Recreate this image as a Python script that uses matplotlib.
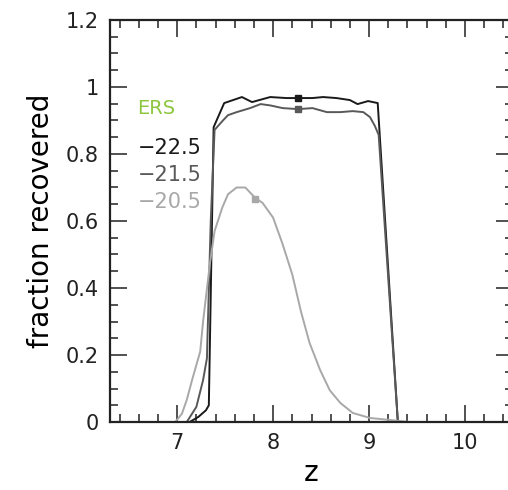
import numpy as np
import matplotlib
matplotlib.use("Agg")
import matplotlib.pyplot as plt
from matplotlib.ticker import MultipleLocator

# magnitude bins, ERS field
labels = ["\u221222.5", "\u221221.5", "\u221220.5"]
colors = ["#1a1a1a", "#595959", "#a8a8a8"]

z_225 = [7.13, 7.22, 7.30, 7.33, 7.38, 7.49, 7.675, 7.78, 7.97, 8.14, 8.26,
         8.41, 8.52, 8.66, 8.80, 8.88, 8.99, 9.09, 9.30, 9.42]
f_225 = [0.0, 0.015, 0.035, 0.05, 0.88, 0.952, 0.970, 0.955, 0.970, 0.967, 0.967,
         0.967, 0.970, 0.967, 0.961, 0.949, 0.958, 0.952, 0.0, 0.0]

z_215 = [7.10, 7.20, 7.27, 7.31, 7.35, 7.39, 7.48, 7.53, 7.62, 7.76, 7.87, 7.97,
         8.10, 8.26, 8.41, 8.56, 8.70, 8.83, 8.94, 9.01, 9.06, 9.10, 9.30, 9.42]
f_215 = [0.0, 0.045, 0.125, 0.19, 0.60, 0.872, 0.901, 0.916, 0.925, 0.937, 0.949, 0.945,
         0.937, 0.934, 0.937, 0.925, 0.925, 0.928, 0.925, 0.910, 0.884, 0.857, 0.0, 0.0]

z_205 = [6.98, 7.05, 7.10, 7.16, 7.24, 7.27, 7.34, 7.39, 7.47, 7.53, 7.62, 7.71,
         7.81, 7.89, 8.00, 8.10, 8.20, 8.29, 8.38, 8.49, 8.59, 8.70, 8.83, 9.01,
         9.22, 9.42]
f_205 = [0.0, 0.025, 0.066, 0.13, 0.21, 0.30, 0.47, 0.57, 0.64, 0.68, 0.70, 0.70,
         0.67, 0.654, 0.61, 0.53, 0.44, 0.33, 0.236, 0.155, 0.095, 0.057, 0.027, 0.012,
         0.006, 0.0]

# median-redshift markers
mark_z = [8.26, 8.26, 7.81]
mark_f = [0.967, 0.934, 0.665]

plt.rcParams['font.family'] = 'DejaVu Sans'

fig = plt.figure(figsize=(5.08, 4.90), dpi=100)
ax = fig.add_axes([110/508, 68/490, 403/508, 402/490])

curves = [(z_225, f_225), (z_215, f_215), (z_205, f_205)]
for (zz, ff), c in zip(curves, colors):
    ax.plot(zz, ff, color=c, lw=1.4)
for mz, mf, c in zip(mark_z, mark_f, colors):
    ax.plot(mz, mf, 's', color=c, ms=4)

ax.set_xlim(6.3, 10.5)
ax.set_ylim(0, 1.2)
ax.xaxis.set_major_locator(MultipleLocator(1))
ax.xaxis.set_minor_locator(MultipleLocator(0.2))
ax.yaxis.set_major_locator(MultipleLocator(0.2))
ax.yaxis.set_minor_locator(MultipleLocator(0.05))
ax.yaxis.set_major_formatter(plt.FuncFormatter(lambda v, p: "%g" % round(v, 2)))
ax.tick_params(which='both', direction='in', top=True, right=True,
               labelsize=15, colors='#222222')
ax.tick_params(which='major', length=12, width=1.1, pad=8)
ax.tick_params(which='minor', length=5.5, width=1.1)
for s in ax.spines.values():
    s.set_linewidth(1.6)
    s.set_color('#222222')

ax.set_xlabel("z", fontsize=20, labelpad=4)
ax.set_ylabel("fraction recovered", fontsize=20, labelpad=8)

ax.text(6.58, 0.92, "ERS", color="#8dc63f", fontsize=14)
for i, (lab, c) in enumerate(zip(labels, colors)):
    ax.text(6.59, 0.80 - i * 0.08, lab, color=c, fontsize=15)

fig.savefig("out.png", dpi=100)
